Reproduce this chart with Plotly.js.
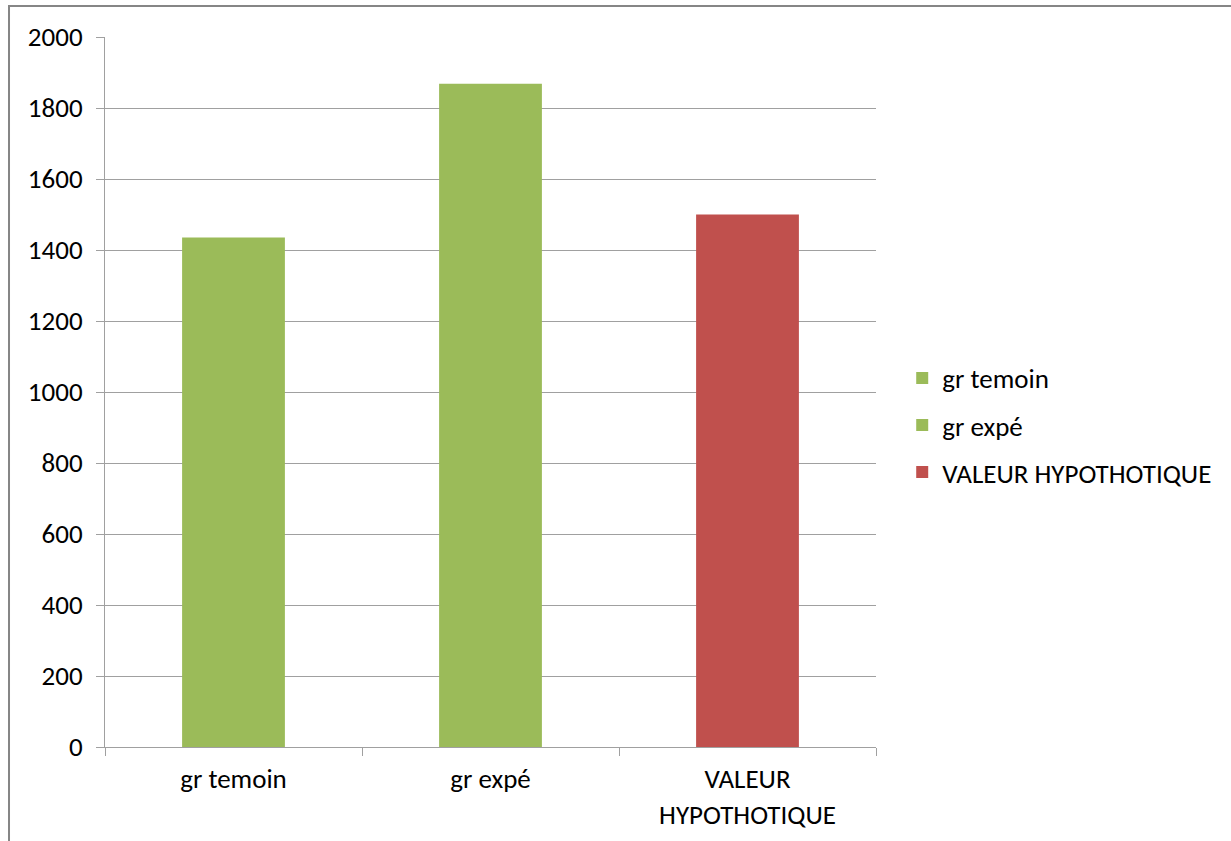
<!DOCTYPE html>
<html>
<head>
<meta charset="utf-8">
<script src="https://cdn.plot.ly/plotly-3.0.1.min.js"></script>
<style>html,body{margin:0;padding:0;background:#fff;}#chart{width:1231px;height:841px;}</style>
</head>
<body>
<div id="chart"></div>
<script>
const categories = ["gr temoin", "gr expé", "VALEUR HYPOTHOTIQUE"];
const tickLabels = ["gr temoin", "gr expé", "VALEUR<br>HYPOTHOTIQUE"];
const values = [1435, 1868, 1500];
const colors = ["#9bbb59", "#9bbb59", "#c0504d"];
const yTicks = [0, 200, 400, 600, 800, 1000, 1200, 1400, 1600, 1800, 2000];

const font = {family: "Carlito, Lato, Liberation Sans, sans-serif", size: 27, color: "#000"};

const traces = categories.map((c, i) => ({
  type: "bar",
  name: c,
  x: [c],
  y: [values[i]],
  marker: {color: colors[i], line: {width: 0}},
  legendgroup: "g" + i,
  hoverinfo: "x+y"
}));

const layout = {
  width: 1231, height: 841,
  margin: {l: 105, r: 355, t: 37, b: 94, autoexpand: false},
  paper_bgcolor: "#fff", plot_bgcolor: "#fff",
  barmode: "overlay",
  bargap: 0.6,
  font: font,
  xaxis: {
    type: "category",
    categoryorder: "array",
    categoryarray: categories,
    tickvals: categories,
    ticktext: tickLabels,
    tickson: "boundaries",
    ticks: "outside", ticklen: 8, tickcolor: "#a0a0a0",
    ticklabelstandoff: 8,
    showline: true, linecolor: "#a0a0a0", linewidth: 1,
    showgrid: false,
    tickfont: font,
    fixedrange: true
  },
  yaxis: {
    range: [0, 2000],
    tickvals: yTicks,
    ticks: "outside", ticklen: 8, tickcolor: "#a0a0a0",
    ticklabelstandoff: 8,
    showline: true, linecolor: "#a0a0a0", linewidth: 1,
    showgrid: true, gridcolor: "#a0a0a0", gridwidth: 1,
    zeroline: false,
    tickfont: font,
    fixedrange: true
  },
  legend: {
    x: 1.034, xanchor: "left",
    y: 0.453, yanchor: "middle",
    traceorder: "grouped",
    tracegroupgap: 9,
    font: font,
    itemwidth: 30
  },
  shapes: [{
    type: "rect", xref: "paper", yref: "paper",
    x0: -0.1245, x1: 2, y0: -1, y1: 1.0437,
    line: {color: "#868686", width: 2}, fillcolor: "rgba(0,0,0,0)"
  }]
};

Plotly.newPlot("chart", traces, layout, {displayModeBar: false, staticPlot: true});
</script>
</body>
</html>
